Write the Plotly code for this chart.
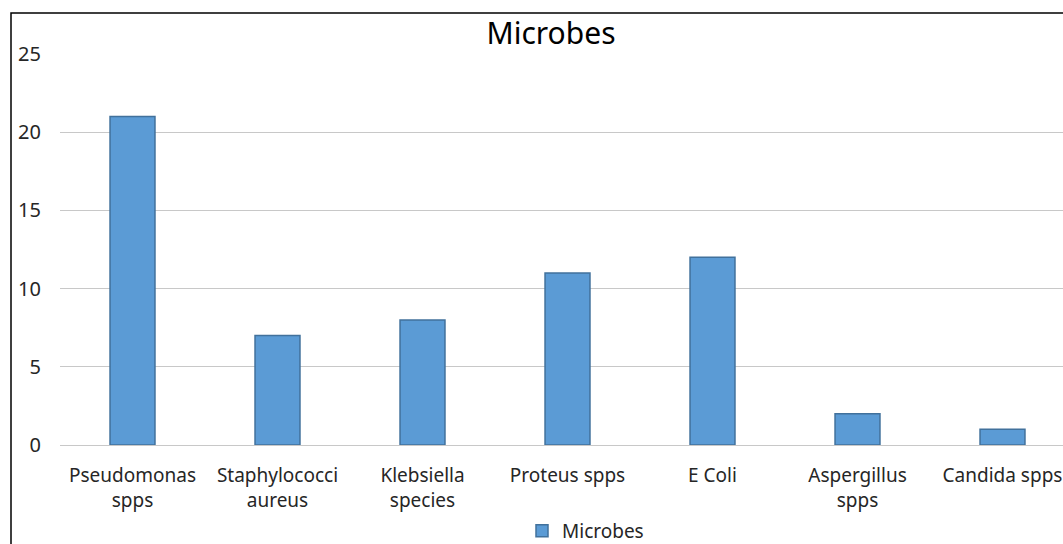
import plotly.graph_objects as go

categories = ["Pseudomonas<br>spps", "Staphylococci<br>aureus", "Klebsiella<br>species",
              "Proteus spps", "E Coli", "Aspergillus<br>spps", "Candida spps"]
values = [21, 7, 8, 11, 12, 2, 1]
series_name = "Microbes"

W, H = 1063, 544
L, R, T, B = 60, 0, 54, 99
pw = W - L - R
ph = H - T - B

font = "Noto Sans, Open Sans, sans-serif"

fig = go.Figure(go.Bar(
    x=list(range(len(categories))), y=values, name=series_name,
    marker=dict(color="#5B9BD5", line=dict(color="#41719C", width=1.5)),
    width=0.31, showlegend=True,
))

bx0 = (11 - L) / pw
by1 = 1 + (T - 13) / ph

fig.update_layout(
    width=W, height=H,
    margin=dict(l=L, r=R, t=T, b=B, autoexpand=False),
    paper_bgcolor="white", plot_bgcolor="white",
    font=dict(family=font, size=19, color="#262626"),
    title=dict(text="Microbes", x=(551 - L) / pw, xref="paper", xanchor="center",
               y=1 - 33 / H, yanchor="middle",
               font=dict(family=font, size=30, color="#000000")),
    xaxis=dict(tickmode="array", tickvals=list(range(len(categories))), ticktext=categories,
               range=[-0.5, -0.5 + pw / 145.0], showgrid=False, zeroline=False,
               showline=False, ticks="", ticklabelstandoff=17, automargin=False,
               tickfont=dict(family=font, size=19, color="#262626")),
    yaxis=dict(range=[0, 25], dtick=5, showgrid=True, gridcolor="#c8c8c8", gridwidth=1,
               zeroline=True, zerolinecolor="#c8c8c8", zerolinewidth=1,
               showline=False, ticks="", ticklabelstandoff=18, automargin=False,
               tickfont=dict(family=font, size=20, color="#262626")),
    legend=dict(orientation="h", x=(522 - L) / pw, xanchor="left",
                y=-(531 - 445) / ph, yanchor="middle",
                font=dict(family=font, size=19, color="#262626"),
                bgcolor="rgba(0,0,0,0)"),
    shapes=[dict(type="rect", xref="paper", yref="paper", x0=bx0, x1=1.05, y0=-0.5, y1=by1,
                 line=dict(color="black", width=1.5), fillcolor="rgba(0,0,0,0)", layer="above")],
)

fig.write_html("out.html", config={"displayModeBar": False},
               post_script="document.body.style.margin='0';document.body.style.overflow='hidden';")
